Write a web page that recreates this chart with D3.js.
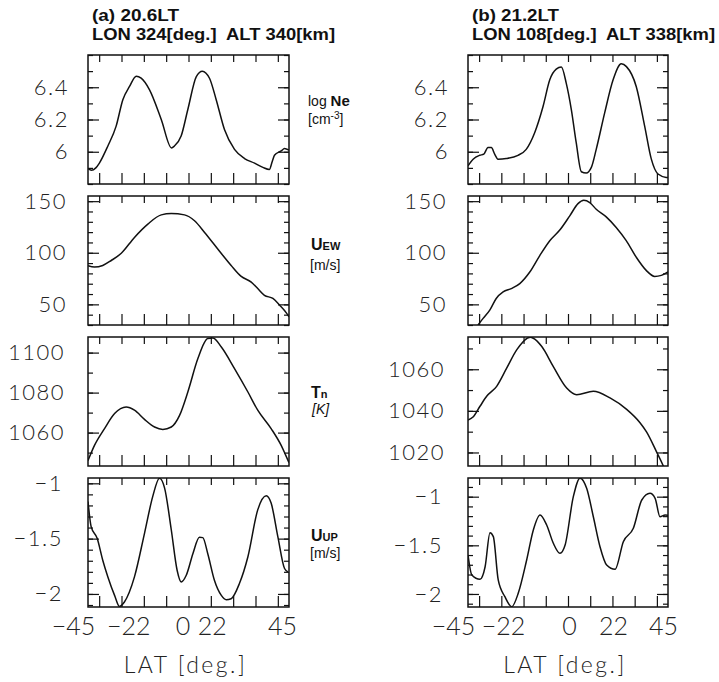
<!DOCTYPE html>
<html>
<head>
<meta charset="utf-8">
<script src="https://cdn.jsdelivr.net/npm/d3@7"></script>
<style>
body { margin: 0; background: #fff; }
svg { display: block; }
.num { font-family: Lato, "DejaVu Sans", sans-serif; font-weight: 300; fill: #222; }
.title { font-family: "Liberation Sans", Arial, sans-serif; font-weight: bold; font-size: 16px; fill: #111; white-space: pre; }
.side { font-family: "Liberation Sans", Arial, sans-serif; font-size: 14px; fill: #111; }
</style>
</head>
<body>
<svg id="chart" width="719" height="682"></svg>
<script>
// values, latitude in deg.
// (a) 20.6LT
const latNeA = [-45,-43.5,-41.5,-39.9,-36.1,-32.4,-29.4,-26.4,-23.4,-21.2,-17.5,-12.2,-7.6,-6.3,-3.3,-0.3,3.5,6.2,9.4,12.4,16.1,20.6,25.1,29.6,33.3,36.2,37.5,38.5,41.5,43,45];
const neA = [5.895,5.885,5.9,5.93,6.036,6.159,6.323,6.405,6.468,6.456,6.385,6.2,6.024,6.036,6.097,6.262,6.466,6.5,6.456,6.323,6.138,6.015,5.958,5.929,5.903,5.89,5.94,5.978,6.005,6.02,6.01];

const latUewA = [-45,-42.1,-38.4,-34.6,-30.1,-24.2,-18.2,-12.2,-7.7,-1.8,2.7,7.2,13.1,19.1,23.6,28.1,31,34,37.8,40.8,43.8,45];
const uewA = [87.5,86.1,87.7,92.5,99.5,114.9,127.8,136.7,138,136.7,131,119.7,103.7,87.7,77.1,71.6,65.3,58.8,55.7,49.2,41.8,38];

const latTnA = [-45,-42.1,-37.6,-33.1,-27.9,-24.2,-19.7,-15.2,-11.5,-7.7,-4,-0.3,4.2,8.6,10.9,14.7,20.6,26.6,31,37,41.5,43.4,45];
const tnA = [1046,1053.6,1062,1069.5,1072.8,1071.2,1066.6,1062.8,1061.6,1062.8,1068.6,1080.3,1097,1107,1107.3,1102.8,1092,1080.3,1071.2,1062,1053.6,1049,1045];

const latUupA = [-45,-43.6,-40.9,-38.4,-36.1,-33.1,-30.9,-28.7,-24.2,-19.7,-16,-13,-10.7,-7.7,-5.1,-3.3,-1,2,4.9,6.4,8.6,11.6,14.7,16.9,19.1,22.8,26.6,31,34.8,37,40,43,44.5];
const uupA = [-1.164,-1.391,-1.497,-1.695,-1.846,-2.013,-2.113,-2.073,-1.846,-1.452,-1.118,-0.955,-1.043,-1.422,-1.786,-1.891,-1.831,-1.634,-1.488,-1.491,-1.634,-1.876,-2.013,-2.052,-2.043,-1.906,-1.664,-1.24,-1.113,-1.179,-1.482,-1.77,-1.8];

// (b) 21.2LT
const latNeB = [-45,-42.7,-39.7,-37.9,-36,-34.5,-33,-31.5,-27.8,-22.5,-18.8,-15,-11.2,-8.2,-5.3,-3,-0.8,1.5,3.7,6,8.2,10.5,12.7,16.5,20.3,24,26.3,30.7,34.5,37.5,40.5,44.2,45];
const neB = [5.913,5.954,5.978,5.985,6.026,6.026,5.985,5.954,5.958,5.978,6.015,6.118,6.282,6.446,6.512,6.525,6.426,6.262,6.056,5.876,5.868,5.903,6.015,6.241,6.446,6.545,6.528,6.405,6.159,5.954,5.862,5.841,5.84];

const latUewB = [-40.5,-38.2,-35.2,-32.3,-29.2,-25.5,-21.7,-17.2,-12.7,-8.2,-3.7,0.8,4.5,7.1,9.8,12.7,17.2,21.7,26.2,30.7,35.2,39,42,45];
const uewB = [30,36.4,44.4,55.7,62,65.3,70.1,81.3,97.3,111.7,122,135.8,147.6,150.8,148.6,142.2,134.8,124.5,111.7,95.7,82.9,77.1,78.1,81.5];

const latTnB = [-45,-42.6,-39.6,-36.6,-32.1,-27.6,-23.1,-17,-15.6,-11.8,-6.6,-0.6,3.9,11.4,18.9,26.4,32.4,35.4,39.9,42.9,45];
const tnB = [1035.6,1037.2,1042.2,1047,1051.8,1060.5,1069.3,1075.4,1074.9,1070.9,1061.3,1051,1047.8,1049.4,1046.2,1040.7,1034.3,1029.8,1020.2,1013.5,1008];

const latUupB = [-45,-43.3,-39.6,-37.3,-35.1,-33.6,-31.4,-28.4,-25.3,-22.4,-18.6,-15.6,-12.6,-9.6,-6.6,-3.6,-1.3,2.4,5.4,8.4,11.4,14.4,17.4,21.2,24.9,29.4,33.2,36.9,39.2,41.4,43.7,45];
const uupB = [-1.599,-1.805,-1.849,-1.72,-1.37,-1.411,-1.856,-2.028,-2.131,-1.993,-1.651,-1.342,-1.188,-1.291,-1.479,-1.582,-1.497,-1.0,-0.81,-0.914,-1.206,-1.514,-1.702,-1.746,-1.463,-1.325,-1.034,-0.965,-1.017,-1.206,-1.188,-1.19];

// tick labels
const latTicks = [-40,-30,-20,-10,0,10,20,30,40];
const latLabels = [-45,-22,0,22,45];
const titles = [["(a) 20.6LT", "LON 324[deg.]  ALT 340[km]"], ["(b) 21.2LT", "LON 108[deg.]  ALT 338[km]"]];

const rows = [
	{ key: "ne", major: [6, 6.2, 6.4], minorStep: 0.1, dom: [[5.8, 6.6], [5.8, 6.6]], pad: 19 },
	{ key: "uew", major: [50, 100, 150], minorStep: 10, dom: [[30, 155], [30, 155]], pad: 21 },
	{ key: "tn", major: [[1060, 1080, 1100], [1020, 1040, 1060]], minorStep: 10, dom: [[1043.3, 1107.8], [1013.5, 1075.5]], pad: 23 },
	{ key: "uup", major: [-2, -1.5, -1], minorStep: 0.1, dom: [[-2.118, -0.952], [-2.134, -0.808]], pad: 25 }
];

const series = [
	[[latNeA, neA], [latUewA, uewA], [latTnA, tnA], [latUupA, uupA]],
	[[latNeB, neB], [latUewB, uewB], [latTnB, tnB], [latUupB, uupB]]
];

// layout
const colX = [88, 468], colW = [201, 200];
const rowY = [55, 196, 337, 478], rowH = 129;
// nudges so the latitude labels sit where the original put them
const latLabelDx = [[-15, -11, -6, -26, -7], [-15, -16, 1, -4, -5]];

const svg = d3.select("#chart");
const fmt = d3.format("~g");

const clean = g => g.select(".domain").remove();

for (let c = 0; c < 2; c++) {
	const x = d3.scaleLinear().domain([-45, 45]).range([colX[c], colX[c] + colW[c]]);
	const x0 = colX[c], x1 = colX[c] + colW[c];

	svg.append("text").attr("class", "title")
		.attr("x", x0 + 4).attr("y", 21)
		.attr("textLength", 87).attr("lengthAdjust", "spacingAndGlyphs")
		.text(titles[c][0]);
	svg.append("text").attr("class", "title")
		.attr("x", x0 + 4).attr("y", 40)
		.attr("textLength", 243).attr("lengthAdjust", "spacingAndGlyphs")
		.text(titles[c][1]);

	rows.forEach((row, r) => {
		const top = rowY[r], bot = rowY[r] + rowH;
		const dom = row.dom[c];
		const y = d3.scaleLinear().domain(dom).range([bot, top]);
		const major = Array.isArray(row.major[0]) ? row.major[c] : row.major;
		const minor = d3.range(Math.ceil(dom[0] / row.minorStep - 1e-6), Math.floor(dom[1] / row.minorStep + 1e-6) + 1)
			.map(k => +(k * row.minorStep).toFixed(3));

		const g = svg.append("g");

		// inward ticks on all four sides
		g.append("g").attr("transform", `translate(${x0},0)`)
			.call(d3.axisRight(y).tickValues(minor).tickSize(5).tickFormat("")).call(clean);
		g.append("g").attr("transform", `translate(${x0},0)`)
			.call(d3.axisRight(y).tickValues(major).tickSize(11).tickFormat("")).call(clean);
		g.append("g").attr("transform", `translate(${x1},0)`)
			.call(d3.axisLeft(y).tickValues(minor).tickSize(5).tickFormat("")).call(clean);
		g.append("g").attr("transform", `translate(${x1},0)`)
			.call(d3.axisLeft(y).tickValues(major).tickSize(11).tickFormat("")).call(clean);
		g.append("g").attr("transform", `translate(0,${top})`)
			.call(d3.axisBottom(x).tickValues(latTicks).tickSize(7).tickFormat("")).call(clean);
		g.append("g").attr("transform", `translate(0,${bot})`)
			.call(d3.axisTop(x).tickValues(latTicks).tickSize(11).tickFormat("")).call(clean);
		g.selectAll(".tick line").attr("stroke", "#111").attr("stroke-width", 1.2);

		// frame
		g.append("rect")
			.attr("x", x0).attr("y", top).attr("width", x1 - x0).attr("height", rowH)
			.attr("fill", "none").attr("stroke", "#111").attr("stroke-width", 1.5);

		// curve
		const clipId = `clip-${c}-${r}`;
		g.append("clipPath").attr("id", clipId)
			.append("rect").attr("x", x0).attr("y", top).attr("width", x1 - x0).attr("height", rowH);
		const [lat, val] = series[c][r];
		const pts = lat.map((d, i) => [d, val[i]]);
		g.append("path")
			.datum(pts)
			.attr("clip-path", `url(#${clipId})`)
			.attr("fill", "none")
			.attr("stroke", "#111")
			.attr("stroke-width", 1.5)
			.attr("stroke-linejoin", "round")
			.attr("d", d3.line().x(d => x(d[0])).y(d => y(d[1])).curve(d3.curveMonotoneX));

		// y tick labels
		const yl = g.append("g").attr("transform", `translate(${x0},0)`)
			.call(d3.axisLeft(y).tickValues(major).tickSize(0).tickPadding(row.pad).tickFormat(fmt)).call(clean);
		yl.attr("font-size", null).attr("font-family", null);
		yl.selectAll("text").attr("class", "num").style("font-size", "22px").style("letter-spacing", "1.5px");

		// latitude labels on the bottom row
		if (r === 3) {
			const xl = g.append("g").attr("transform", `translate(0,${bot})`)
				.call(d3.axisBottom(x).tickValues(latLabels).tickSize(0).tickPadding(10).tickFormat(d3.format("d"))).call(clean);
			xl.attr("font-size", null).attr("font-family", null);
			xl.selectAll("text").attr("class", "num").style("font-size", "25px")
				.attr("dx", (d, i) => latLabelDx[c][i]);

			svg.append("text").attr("class", "num")
				.attr("x", (x0 + x1) / 2 - 3).attr("y", 673)
				.attr("text-anchor", "middle")
				.style("font-size", "23px").style("letter-spacing", "2.5px")
				.text("LAT [deg.]");
		}
	});
}

// quantity labels right of the left column
const side = svg.append("g").attr("class", "side");
const l1 = side.append("text").attr("x", 308).attr("y", 106);
l1.append("tspan").text("log ");
l1.append("tspan").attr("font-weight", "bold").attr("font-size", "15px").text("Ne");
const l1b = side.append("text").attr("x", 308).attr("y", 124);
l1b.append("tspan").text("[cm");
l1b.append("tspan").attr("font-size", "10px").attr("dy", -5).text("-3");
l1b.append("tspan").attr("dy", 5).text("]");

const l2 = side.append("text").attr("x", 311).attr("y", 250).attr("font-weight", "bold");
l2.append("tspan").attr("font-size", "16px").text("U");
l2.append("tspan").attr("font-size", "11px").text("EW");
side.append("text").attr("x", 310).attr("y", 270).text("[m/s]");

const l3 = side.append("text").attr("x", 311).attr("y", 398).attr("font-weight", "bold");
l3.append("tspan").attr("font-size", "16px").text("T");
l3.append("tspan").attr("font-size", "11px").text("n");
side.append("text").attr("x", 312).attr("y", 414).attr("font-style", "italic").text("[K]");

const l4 = side.append("text").attr("x", 311).attr("y", 541).attr("font-weight", "bold");
l4.append("tspan").attr("font-size", "16px").text("U");
l4.append("tspan").attr("font-size", "11px").text("UP");
side.append("text").attr("x", 310).attr("y", 558).text("[m/s]");
</script>
</body>
</html>
